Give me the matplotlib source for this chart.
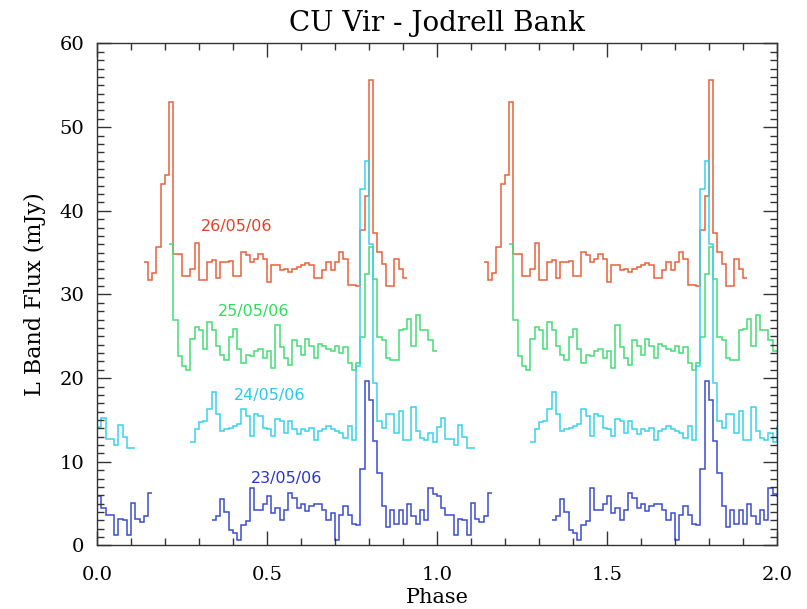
import numpy as np
import matplotlib
matplotlib.use('Agg')
import matplotlib.pyplot as plt
from matplotlib.ticker import MultipleLocator

# light curves folded in phase, 80 bins per rotation
nbins = 80

# 26/05/06, first bin 11
red_start = 11
red_flux = [33.9, 31.7, 32.6, 35.7, 43.2, 44.3, 53.0, 34.8, 34.8, 32.2,
            32.2, 33.0, 36.1, 31.7, 31.7, 33.9, 34.1, 32.0, 33.9, 33.9,
            34.0, 32.2, 32.2, 35.1, 34.7, 33.9, 34.3, 34.8, 34.3, 31.5,
            33.5, 33.5, 32.9, 33.1, 32.7, 33.1, 33.3, 33.5, 33.8, 33.5,
            32.0, 32.0, 32.9, 33.9, 32.9, 33.9, 35.1, 34.3, 31.1, 31.1,
            31.0, 37.7, 41.8, 55.6, 37.3, 35.1, 33.7, 31.0, 31.0, 34.3,
            33.0, 32.0]

# 25/05/06, first bin 17
green_start = 17
green_flux = [36.0, 26.9, 22.6, 21.4, 21.0, 24.7, 26.1, 25.7, 23.5, 26.7,
              25.7, 23.9, 22.8, 22.2, 24.9, 25.9, 23.5, 21.8, 22.8, 22.6,
              23.2, 23.5, 22.4, 23.2, 21.2, 26.3, 23.7, 22.4, 21.6, 24.5,
              23.9, 22.8, 24.7, 23.9, 22.4, 24.1, 23.9, 23.5, 23.2, 23.9,
              23.0, 23.7, 21.8, 21.0, 21.8, 24.9, 32.4, 35.7, 31.8, 24.9,
              24.5, 22.4, 22.2, 22.2, 25.7, 25.9, 27.1, 23.9, 27.5, 25.7,
              25.7, 24.5, 23.2]

# 24/05/06, first bin 22
cyan_start = 22
cyan_flux = [12.4, 13.9, 14.7, 14.9, 16.3, 18.3, 15.7, 13.7, 13.9, 14.1,
             14.3, 14.5, 16.3, 15.5, 13.1, 15.7, 15.5, 14.1, 13.9, 13.1,
             15.1, 14.9, 13.5, 14.9, 13.9, 13.3, 13.9, 13.7, 14.1, 12.6,
             13.7, 13.9, 14.3, 13.9, 13.7, 13.5, 12.9, 14.3, 12.6, 21.4,
             42.6, 46.0, 36.0, 19.4, 14.9, 14.1, 15.7, 15.7, 13.5, 16.1,
             12.6, 12.6, 16.5, 13.7, 12.9, 12.6, 13.5, 12.4, 14.2, 15.2,
             12.7, 12.7, 12.0, 14.4, 13.0, 11.7, 11.7]

# 23/05/06, first bin 27
blue_start = 27
blue_flux = [3.0, 3.5, 5.6, 4.0, 1.8, 1.5, 0.6, 2.4, 2.9, 6.9,
             4.3, 4.3, 4.9, 5.9, 3.9, 4.5, 3.0, 4.3, 6.3, 5.7,
             4.5, 4.9, 4.1, 4.7, 4.9, 4.9, 4.3, 3.0, 3.9, 0.6,
             3.7, 4.7, 3.7, 2.6, 2.4, 9.2, 19.6, 17.4, 12.5, 8.7,
             4.7, 2.2, 4.3, 2.6, 4.3, 2.6, 4.9, 3.5, 2.6, 4.3,
             3.0, 6.9, 6.1, 5.9, 4.5, 3.7, 3.7, 1.2, 3.2, 3.0,
             1.2, 5.1, 3.2, 2.8, 3.5, 6.3]

dates = ['26/05/06', '25/05/06', '24/05/06', '23/05/06']
label_phase = [0.41, 0.46, 0.509, 0.559]
label_flux = [38.1, 28.0, 17.9, 8.0]

line_colors = ['#e8603c', '#45dd75', '#38d2ec', '#3a4cd0']
text_colors = ['#e2422a', '#2fdc5c', '#27c9ec', '#2a36cc']

series = [(red_start, red_flux), (green_start, green_flux),
          (cyan_start, cyan_flux), (blue_start, blue_flux)]

serif = 'DejaVu Serif'

fig = plt.figure(figsize=(8.07, 6.09), dpi=100)
ax = fig.add_axes([0.1202, 0.1043, 0.8426, 0.8243])

for (start, flux), col in zip(series, line_colors):
    flux = np.array(flux)
    edges = (start + np.arange(len(flux) + 1)) / nbins
    # repeat each rotation so the curve shows twice across phase 0-2
    for shift in (-1, 0, 1):
        ax.stairs(flux, edges + shift, baseline=None, color=col, lw=1.1)

for d, px, fy, col in zip(dates, label_phase, label_flux, text_colors):
    ax.text(px, fy, d, color=col, fontsize=11.5, ha='center', va='center')

ax.set_xlim(0, 2)
ax.set_ylim(0, 60)
ax.xaxis.set_minor_locator(MultipleLocator(0.1))
ax.yaxis.set_minor_locator(MultipleLocator(1))
ax.tick_params(which='both', direction='in', top=True, right=True,
               color='#333333', width=1.0)
ax.tick_params(which='major', length=10)
ax.tick_params(which='minor', length=5)
ax.tick_params(axis='x', which='major', pad=15)
ax.tick_params(axis='y', which='major', pad=9)
ax.set_xticks([0, 0.5, 1.0, 1.5, 2.0])
ax.set_xticklabels(['0.0', '0.5', '1.0', '1.5', '2.0'], family=serif, fontsize=14)
ax.set_yticks([0, 10, 20, 30, 40, 50, 60])
ax.set_yticklabels(['0', '10', '20', '30', '40', '50', '60'], family=serif, fontsize=14)
for sp in ax.spines.values():
    sp.set_color('#333333')
    sp.set_linewidth(1.0)

ax.set_xlabel('Phase', family=serif, fontsize=15, labelpad=3)
ax.set_ylabel('L Band Flux (mJy)', family=serif, fontsize=16, labelpad=10)
ax.set_title('CU Vir - Jodrell Bank', family=serif, fontsize=20, pad=9)

fig.savefig('out.png', dpi=100)
